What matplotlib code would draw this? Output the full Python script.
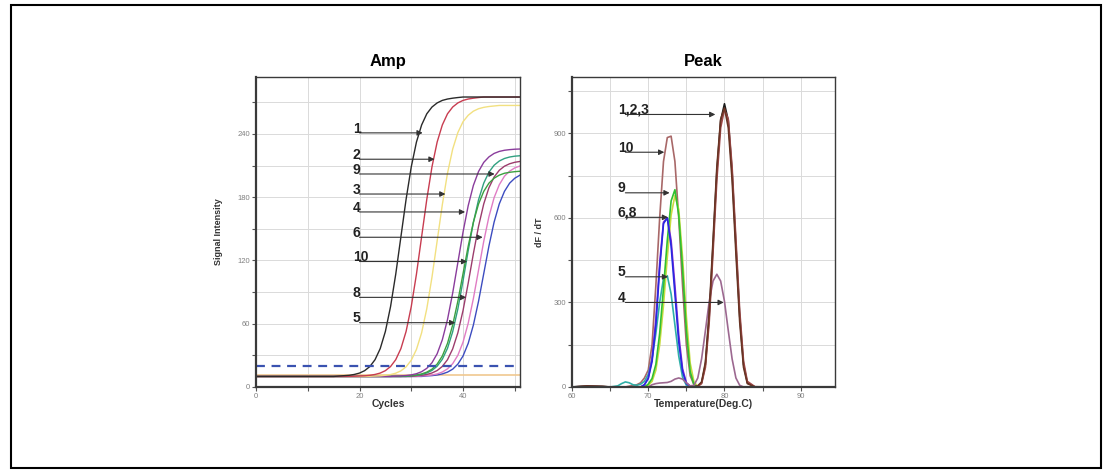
import matplotlib
matplotlib.use('Agg')
import matplotlib.pyplot as plt
from matplotlib.patches import Rectangle

plt.rcParams['font.family'] = ['Liberation Sans', 'DejaVu Sans']

# ---- Amp panel data (signal intensity per cycle) ----
cycles = [0, 5, 10, 15, 18, 19, 20, 21, 22, 23, 24, 25, 26, 27, 28, 29, 30, 31, 32,
          33, 34, 35, 36, 37, 38, 39, 40, 41, 42, 43, 44, 45, 46, 47, 48, 49, 50, 51]

amp_1 = [10, 10, 10, 10, 11.1, 11.9, 13.2, 15.5, 19.4, 25.9, 36.4, 52.7, 76.3, 107, 142.5,
         178, 208.8, 232.3, 248.5, 259.1, 265.5, 269.4, 271.8, 273.1, 273.9, 274.5,
         275, 275, 275, 275, 275, 275, 275, 275, 275, 275, 275, 275]
amp_2 = [10, 10, 10, 10, 10.1, 10.2, 10.4, 10.6, 11.1, 11.9, 13.2, 15.5, 19.4, 25.9, 36.4,
         52.7, 76.3, 107, 142.5, 178, 208.8, 232.3, 248.5, 259.1, 265.5, 269.4, 271.8,
         273.1, 273.9, 274.5, 275, 275, 275, 275, 275, 275, 275, 275]
amp_3 = [10, 10, 10, 10, 10, 10, 10, 10, 10.2, 10.4, 10.6, 11.1, 11.8, 13.1, 15.3, 19.1,
         25.4, 35.6, 51.4, 74.3, 104.1, 138.5, 172.9, 202.8, 225.6, 241.3, 251.6, 257.7,
         261.6, 263.9, 265.2, 266, 266.5, 267, 267, 267, 267, 267]
amp_4 = [10, 10, 10, 10, 10, 10, 10, 10, 10, 10, 10, 10, 10, 10.3, 10.5, 10.9, 11.5, 12.6,
         14.5, 17.7, 23, 31.5, 44.8, 64, 89.1, 118, 146.9, 172, 191.2, 204.4, 213, 218.2,
         221.5, 223.4, 224.5, 225.1, 225.5, 225.7]
amp_5 = [10, 10, 10, 10, 10, 10, 10, 10, 10, 10, 10, 10, 10, 10, 10, 10.5, 10.8, 11.4,
         12.4, 14.1, 16.9, 21.7, 29.4, 41.4, 58.8, 81.4, 107.5, 133.6, 156.3, 173.6, 185.5,
         193.3, 198, 200.9, 202.7, 203.6, 204.2, 204.6]
amp_10 = [10, 10, 10, 10, 10, 10, 10, 10, 10, 10, 10, 10, 10, 10, 10, 10, 10.7, 11.1,
          11.9, 13.3, 15.7, 19.7, 26.3, 36.7, 52.4, 74, 100.7, 129.3, 156, 177.6, 193.3,
          203.7, 210.3, 214.3, 216.7, 218.1, 218.9, 219.3]
amp_8 = [10, 10, 10, 10, 10, 10, 10, 10, 10, 10, 10, 10, 10, 10, 10, 10, 10, 10.6, 11.1,
         11.9, 13.3, 15.6, 19.5, 25.9, 36.1, 51.4, 72.5, 98.5, 126.5, 152.5, 173.6, 188.9,
         199.1, 205.5, 209.4, 211.7, 213.1, 213.9]
amp_6 = [10, 10, 10, 10, 10, 10, 10, 10, 10, 10, 10, 10, 10, 10, 10, 10, 10, 10, 10.5,
         10.8, 11.4, 12.4, 14.2, 17.2, 22.1, 30.1, 42.5, 60.5, 83.9, 111, 138.1, 161.5,
         179.5, 191.8, 199.9, 204.7, 207.8, 209.6]
amp_9 = [10, 10, 10, 10, 10, 10, 10, 10, 10, 10, 10, 10, 10, 10, 10, 10, 10, 10, 10,
         10.5, 10.8, 11.4, 12.4, 14.1, 16.9, 21.7, 29.4, 41.4, 58.8, 81.4, 107.5, 133.6,
         156.3, 173.6, 185.5, 193.3, 198, 200.9]
neg_cycles = [0, 51]
neg_signal = [11.3, 11.3]
threshold = 20

amp_series = [(amp_9, '#3c4cc0'), (amp_6, '#e07cc4'), (amp_8, '#9c3c6c'),
              (amp_10, '#30a080'), (amp_5, '#3ca040'), (amp_4, '#8a3c9c'),
              (amp_3, '#f2e080'), (amp_2, '#c83c50'), (amp_1, '#2a2a2a')]

amp_labels = ['1', '2', '9', '3', '4', '6', '10', '8', '5']
amp_arrow_y = [241, 216, 202, 183, 166, 142, 119, 85, 61]
amp_tip_x = [32.2, 34.5, 46.1, 36.6, 40.4, 43.8, 40.8, 40.6, 38.5]

# ---- Peak panel data (dF/dT per temperature) ----
temps = [60, 62, 64, 65, 66, 66.5, 67, 67.5, 68, 68.5, 69, 69.5, 70, 70.5, 71, 71.5, 72,
         72.5, 73, 73.5, 74, 74.5, 75, 75.5, 76, 76.5, 77, 77.5, 78, 78.5, 79, 79.5, 80,
         80.5, 81, 81.5, 82, 82.5, 83, 84, 86, 90, 95]

peak_1 = [0, 4, 2, 0, 0, 0, 0, 0, 0, 0,
          0, 0, 0, 0, 0, 0, 0, 0, 0, 0,
          0, 0, 0, 0, 0, 3, 15, 80, 251, 503,
          764, 945, 1005, 945, 764, 503, 251, 80, 15, 0,
          0, 0, 0]
peak_2 = [0, 3, 2, 0, 0, 0, 0, 0, 0, 0,
          0, 0, 0, 0, 0, 0, 0, 0, 0, 0,
          0, 0, 0, 0, 0, 4, 18, 88, 265, 520,
          780, 950, 990, 920, 735, 475, 230, 70, 12, 0,
          0, 0, 0]
peak_3 = [0, 2, 1, 0, 0, 0, 0, 0, 0, 0,
          0, 0, 0, 0, 0, 0, 0, 0, 0, 0,
          0, 0, 0, 0, 0, 2, 12, 70, 232, 478,
          735, 920, 985, 950, 780, 525, 270, 92, 20, 1,
          0, 0, 0]
peak_10 = [0, 0, 0, 0, 0, 0, 0, 3, 5, 8,
           15, 32, 60, 150, 360, 600, 800, 885, 890, 800,
           600, 360, 150, 40, 8, 0, 0, 0, 0, 0,
           0, 0, 0, 0, 0, 0, 0, 0, 0, 0,
           0, 0, 0]
peak_9 = [0, 0, 0, 0, 0, 0, 0, 0, 0, 0,
          0, 0, 10, 30, 80, 190, 350, 520, 660, 700,
          610, 420, 200, 55, 8, 0, 0, 0, 0, 0,
          0, 0, 0, 0, 0, 0, 0, 0, 0, 0,
          0, 0, 0]
peak_9b = [0, 0, 0, 0, 0, 0, 0, 0, 0, 0,
           0, 0, 6, 20, 60, 150, 290, 460, 610, 680,
           630, 460, 250, 85, 18, 2, 0, 0, 0, 0,
           0, 0, 0, 0, 0, 0, 0, 0, 0, 0,
           0, 0, 0]
peak_6 = [0, 0, 0, 0, 0, 0, 0, 0, 0, 0,
          0, 8, 30, 90, 220, 420, 580, 600, 500, 330,
          160, 55, 12, 2, 0, 0, 0, 0, 0, 0,
          0, 0, 0, 0, 0, 0, 0, 0, 0, 0,
          0, 0, 0]
peak_8 = [0, 0, 0, 0, 0, 0, 0, 0, 0, 0,
          0, 8, 32, 100, 240, 440, 585, 600, 520, 360,
          185, 65, 15, 3, 0, 0, 0, 0, 0, 0,
          0, 0, 0, 0, 0, 0, 0, 0, 0, 0,
          0, 0, 0]
peak_5 = [0, 0, 0, 0, 4, 12, 18, 15, 8, 6,
          10, 20, 45, 100, 190, 300, 385, 395, 330, 220,
          110, 35, 6, 0, 0, 0, 0, 0, 0, 0,
          0, 0, 0, 0, 0, 0, 0, 0, 0, 0,
          0, 0, 0]
peak_4 = [0, 0, 0, 0, 0, 0, 0, 0, 0, 0,
          0, 0, 0, 8, 12, 14, 15, 16, 20, 28,
          32, 28, 15, 4, 6, 32, 100, 200, 304, 376,
          400, 376, 304, 200, 100, 32, 6, 0, 0, 0,
          0, 0, 0]

# drawing order: bottom first
peak_series = [(peak_10, '#a86868'), (peak_5, '#30b0a8'), (peak_9b, '#c8dc40'),
               (peak_9, '#30c030'), (peak_8, '#8a2cd0'), (peak_6, '#2828e0'),
               (peak_4, '#9c6890'), (peak_1, '#1a1a1a'), (peak_3, '#a04848'),
               (peak_2, '#6a3424')]

peak_labels = ['1,2,3', '10', '9', '6,8', '5', '4']
peak_arrow_y = [967, 833, 689, 602, 391, 300]
peak_tip_x = [78.8, 72.1, 72.8, 72.6, 72.6, 79.9]


def style(ax):
    ax.grid(True, color='#dadada', linewidth=0.7)
    ax.set_axisbelow(True)
    for s in ax.spines.values():
        s.set_color('#3a3a3a')
        s.set_linewidth(1.0)
    ax.spines['left'].set_linewidth(1.6)
    ax.spines['bottom'].set_linewidth(1.6)
    ax.tick_params(direction='out', length=3, width=0.8, colors='#555555',
                   labelsize=5.5, labelcolor='#808080', pad=1.5)


arrow_kw = dict(arrowstyle='-|>', color='#333333', lw=0.8, mutation_scale=8,
                shrinkA=0, shrinkB=0)

fig = plt.figure(figsize=(11.12, 4.72), dpi=100)
fig.patches.append(Rectangle((0.0099, 0.0085), 0.9802, 0.9809, transform=fig.transFigure,
                             fill=False, edgecolor='black', linewidth=1.5))

# Amp
ax1 = fig.add_axes([0.2302, 0.1801, 0.2374, 0.6568])
style(ax1)
ax1.plot(neg_cycles, neg_signal, color='#f0c890', lw=1.2)
for vals, col in amp_series:
    ax1.plot(cycles, vals, color=col, lw=1.0)
ax1.axhline(threshold, color='#3a52b0', lw=1.6, dashes=(4, 3))
ax1.set_xlim(0, 51)
ax1.set_ylim(0, 294)
ax1.set_xticks(range(0, 51, 10))
ax1.set_xticklabels(['0', '', '20', '', '40', ''])
ax1.set_yticks(range(0, 271, 30))
ax1.set_yticklabels(['0', '', '60', '', '120', '', '180', '', '240', ''])
ax1.set_title('Amp', fontsize=12, fontweight='bold', pad=8)
ax1.set_xlabel('Cycles', fontsize=7.5, fontweight='bold', color='#333333')
ax1.set_ylabel('Signal Intensity', fontsize=6.5, fontweight='bold', color='#333333')
ax1.xaxis.set_label_coords(0.5, -0.04)
ax1.yaxis.set_label_coords(-0.125, 0.5)
for lab, y, tx in zip(amp_labels, amp_arrow_y, amp_tip_x):
    ax1.annotate('', xy=(tx, y), xytext=(20.0, y), arrowprops=arrow_kw)
    ax1.text(18.7, y + 4, lab, fontsize=10, fontweight='bold', ha='left', va='center',
             color='#222222')

# Peak
ax2 = fig.add_axes([0.5144, 0.1801, 0.2365, 0.6568])
style(ax2)
for vals, col in peak_series:
    ax2.plot(temps, vals, color=col, lw=1.2)
ax2.set_xlim(60, 94.5)
ax2.set_ylim(0, 1100)
ax2.set_xticks(range(60, 95, 5))
ax2.set_xticklabels(['60', '', '70', '', '80', '', '90'])
ax2.set_yticks(range(0, 1051, 150))
ax2.set_yticklabels(['0', '', '300', '', '600', '', '900', ''])
ax2.set_title('Peak', fontsize=12, fontweight='bold', pad=8)
ax2.set_xlabel('Temperature(Deg.C)', fontsize=7.5, fontweight='bold', color='#333333')
ax2.set_ylabel('dF / dT', fontsize=6.5, fontweight='bold', color='#333333')
ax2.xaxis.set_label_coords(0.5, -0.04)
ax2.yaxis.set_label_coords(-0.105, 0.5)
for lab, y, tx in zip(peak_labels, peak_arrow_y, peak_tip_x):
    ax2.annotate('', xy=(tx, y), xytext=(67.0, y), arrowprops=arrow_kw)
    ax2.text(66.0, y + 16, lab, fontsize=10, fontweight='bold', ha='left', va='center',
             color='#222222')

fig.savefig('out.png', dpi=100)
